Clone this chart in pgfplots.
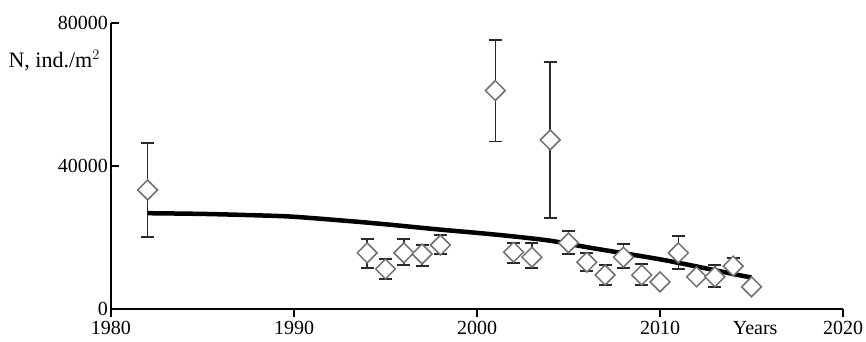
\documentclass[border=0pt]{standalone}
\usepackage{fontspec}
\setmainfont{Liberation Serif}
\usepackage{pgfplots}
\pgfplotsset{compat=1.18}
\usepackage{pgfplotstable}
\definecolor{mk}{HTML}{707070}
\definecolor{eb}{HTML}{2A2A2A}
\pgfplotstableread{
x y ep em
1982 33300 13100 13200
1994 15700 3900 4200
1995 11200 2800 2800
1996 15700 3900 3400
1997 15400 2500 3400
1998 17900 2800 2500
2001 61100 14100 14300
2002 15900 2600 3000
2003 14500 4000 3000
2004 47300 21800 21900
2005 18500 3300 3100
2006 13100 2500 2500
2007 9500 2800 2800
2008 14500 3700 3000
2009 9500 3100 2800
2010 7600 0 0
2011 15700 4700 4500
2012 9000 0 0
2013 9000 3300 2800
2014 12000 2300 2300
2015 6200 1200 1200
}\pts
\pgfplotstableread{
x y
1982 26800
1985 26600
1988 26200
1990 25800
1993 24600
1995 23700
1998 22200
2000 21300
2002 20300
2004 19100
2006 17300
2008 15600
2010 13900
2012 11900
2014 9800
2015 8800
}\trend
\begin{document}
\fontsize{20pt}{24pt}\selectfont
\begin{tikzpicture}
\path (-111pt,-32pt) rectangle (755pt,309pt);
\begin{axis}[
  at={(0pt,0pt)}, anchor=south west,
  scale only axis, width=732pt, height=286pt,
  xmin=1980, xmax=2020, ymin=0, ymax=80000,
  axis lines*=left,
  axis line style={line width=1.3pt, black},
  xtick={1980,1990,2000,2010,2020},
  ytick={0,40000,80000},
  extra x ticks={2015.2},
  extra x tick labels={Years},
  extra x tick style={major tick style={draw=none}},
  xtick align=outside, ytick align=inside,
  major tick length=8pt,
  tick style={line width=1.3pt, black},
  scaled y ticks=false, scaled x ticks=false,
  /pgf/number format/assume math mode=true,
  /pgf/number format/set thousands separator={},
  xticklabel style={/pgf/number format/1000 sep={}, inner sep=1pt, yshift=-3pt},
  yticklabel style={inner sep=1pt, xshift=-2pt},
  tick label style={font=\fontsize{20pt}{24pt}\selectfont},
  clip=false,
]
\addplot[draw=none, mark=none,
  error bars/.cd, y dir=both, y explicit,
  error bar style={line width=1.5pt, eb},
  error mark options={line width=1.5pt, eb, mark size=6.5pt, rotate=90}]
  table[x=x, y=y, y error plus=ep, y error minus=em]{\pts};
\addplot[only marks, mark=square*, mark size=7pt,
  mark options={rotate=45, draw=mk, fill=white, line width=1.5pt}]
  table[x=x, y=y]{\pts};
\addplot[no marks, black, line width=4.5pt, smooth] table[x=x, y=y]{\trend};
\node[anchor=east, inner sep=0pt, font=\fontsize{22pt}{26pt}\selectfont] at (rel axis cs:-0.015,0.868) {N, ind./m$^2$};
\end{axis}
\end{tikzpicture}
\end{document}
